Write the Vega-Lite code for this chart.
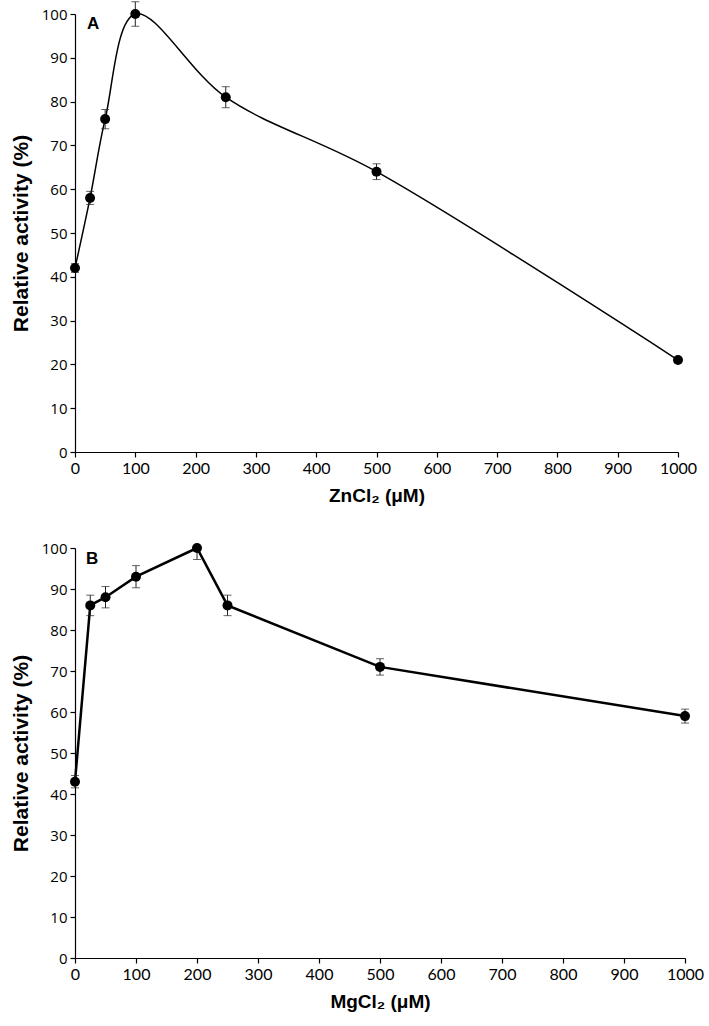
{
  "$schema": "https://vega.github.io/schema/vega-lite/v6.json",
  "padding": {"left": 10, "top": 1, "right": 14, "bottom": 5},
  "spacing": 36,
  "config": {
    "view": {"stroke": null},
    "axis": {
      "grid": false,
      "domainColor": "#000",
      "tickColor": "#000",
      "labelColor": "#000",
      "titleColor": "#000",
      "tickSize": 5,
      "domainWidth": 1.2,
      "tickWidth": 1.2,
      "labelPadding": 3
    },
    "axisX": {"labelFont": "Lato", "labelFontSize": 16, "titleFont": "Liberation Sans", "titleFontSize": 19, "titleFontWeight": "bold", "titlePadding": 10, "labelFlush": false, "format": "d"},
    "axisY": {"labelFont": "Open Sans", "labelFontSize": 15, "titleFont": "Liberation Sans", "titleFontSize": 21, "titleFontWeight": "bold", "titlePadding": 10}
  },
  "datasets": {
    "zn": [
      {"conc": 0, "act": 42, "lo": 41, "hi": 43},
      {"conc": 25, "act": 58, "lo": 56.5, "hi": 59.5},
      {"conc": 50, "act": 76, "lo": 73.8, "hi": 78.2},
      {"conc": 100, "act": 100, "lo": 97.2, "hi": 102.8},
      {"conc": 250, "act": 81, "lo": 78.6, "hi": 83.4},
      {"conc": 500, "act": 64, "lo": 62.2, "hi": 65.8},
      {"conc": 1000, "act": 21, "lo": 20.6, "hi": 21.4}
    ],
    "mg": [
      {"conc": 0, "act": 43, "lo": 41.5, "hi": 44.5},
      {"conc": 25, "act": 86, "lo": 83.5, "hi": 88.5},
      {"conc": 50, "act": 88, "lo": 85.4, "hi": 90.6},
      {"conc": 100, "act": 93, "lo": 90.3, "hi": 95.7},
      {"conc": 200, "act": 100, "lo": 97.2, "hi": 100},
      {"conc": 250, "act": 86, "lo": 83.5, "hi": 88.5},
      {"conc": 500, "act": 71, "lo": 69, "hi": 73},
      {"conc": 1000, "act": 59, "lo": 57.3, "hi": 60.7}
    ],
    "labA": [{"x": 30, "y": 97.7, "t": "A"}],
    "labB": [{"x": 28, "y": 97.3, "t": "B"}]
  },
  "vconcat": [
    {
      "width": 603,
      "height": 438,
      "encoding": {
        "x": {"field": "conc", "type": "quantitative", "title": "ZnCl₂ (μM)", "scale": {"domain": [0, 1000], "nice": false}, "axis": {"values": [0, 100, 200, 300, 400, 500, 600, 700, 800, 900, 1000]}},
        "y": {"field": "act", "type": "quantitative", "title": "Relative activity (%)", "scale": {"domain": [0, 100], "nice": false}, "axis": {"values": [0, 10, 20, 30, 40, 50, 60, 70, 80, 90, 100]}}
      },
      "layer": [
        {"data": {"name": "zn"}, "mark": {"type": "line", "interpolate": "catmull-rom", "color": "#000", "strokeWidth": 1.5}},
        {"data": {"name": "zn"}, "mark": {"type": "rule", "color": "#222", "strokeWidth": 1}, "encoding": {"y": {"field": "lo", "type": "quantitative"}, "y2": {"field": "hi"}}},
        {"data": {"name": "zn"}, "mark": {"type": "tick", "orient": "horizontal", "color": "#222", "size": 8, "thickness": 1}, "encoding": {"y": {"field": "lo", "type": "quantitative"}}},
        {"data": {"name": "zn"}, "mark": {"type": "tick", "orient": "horizontal", "color": "#222", "size": 8, "thickness": 1}, "encoding": {"y": {"field": "hi", "type": "quantitative"}}},
        {"data": {"name": "zn"}, "mark": {"type": "point", "filled": true, "color": "#000", "size": 100, "opacity": 1}},
        {"data": {"name": "labA"}, "mark": {"type": "text", "font": "Liberation Sans", "fontWeight": "bold", "fontSize": 17, "color": "#000", "align": "center", "baseline": "middle"}, "encoding": {"x": {"field": "x", "type": "quantitative"}, "y": {"field": "y", "type": "quantitative"}, "text": {"field": "t"}}}
      ]
    },
    {
      "width": 610,
      "height": 410,
      "encoding": {
        "x": {"field": "conc", "type": "quantitative", "title": "MgCl₂ (μM)", "scale": {"domain": [0, 1000], "nice": false}, "axis": {"values": [0, 100, 200, 300, 400, 500, 600, 700, 800, 900, 1000]}},
        "y": {"field": "act", "type": "quantitative", "title": "Relative activity (%)", "scale": {"domain": [0, 100], "nice": false}, "axis": {"values": [0, 10, 20, 30, 40, 50, 60, 70, 80, 90, 100]}}
      },
      "layer": [
        {"data": {"name": "mg"}, "mark": {"type": "line", "color": "#000", "strokeWidth": 2.5}},
        {"data": {"name": "mg"}, "mark": {"type": "rule", "color": "#222", "strokeWidth": 1}, "encoding": {"y": {"field": "lo", "type": "quantitative"}, "y2": {"field": "hi"}}},
        {"data": {"name": "mg"}, "mark": {"type": "tick", "orient": "horizontal", "color": "#222", "size": 8, "thickness": 1}, "encoding": {"y": {"field": "lo", "type": "quantitative"}}},
        {"data": {"name": "mg"}, "mark": {"type": "tick", "orient": "horizontal", "color": "#222", "size": 8, "thickness": 1}, "encoding": {"y": {"field": "hi", "type": "quantitative"}}},
        {"data": {"name": "mg"}, "mark": {"type": "point", "filled": true, "color": "#000", "size": 100, "opacity": 1}},
        {"data": {"name": "labB"}, "mark": {"type": "text", "font": "Liberation Sans", "fontWeight": "bold", "fontSize": 17, "color": "#000", "align": "center", "baseline": "middle"}, "encoding": {"x": {"field": "x", "type": "quantitative"}, "y": {"field": "y", "type": "quantitative"}, "text": {"field": "t"}}}
      ]
    }
  ]
}
